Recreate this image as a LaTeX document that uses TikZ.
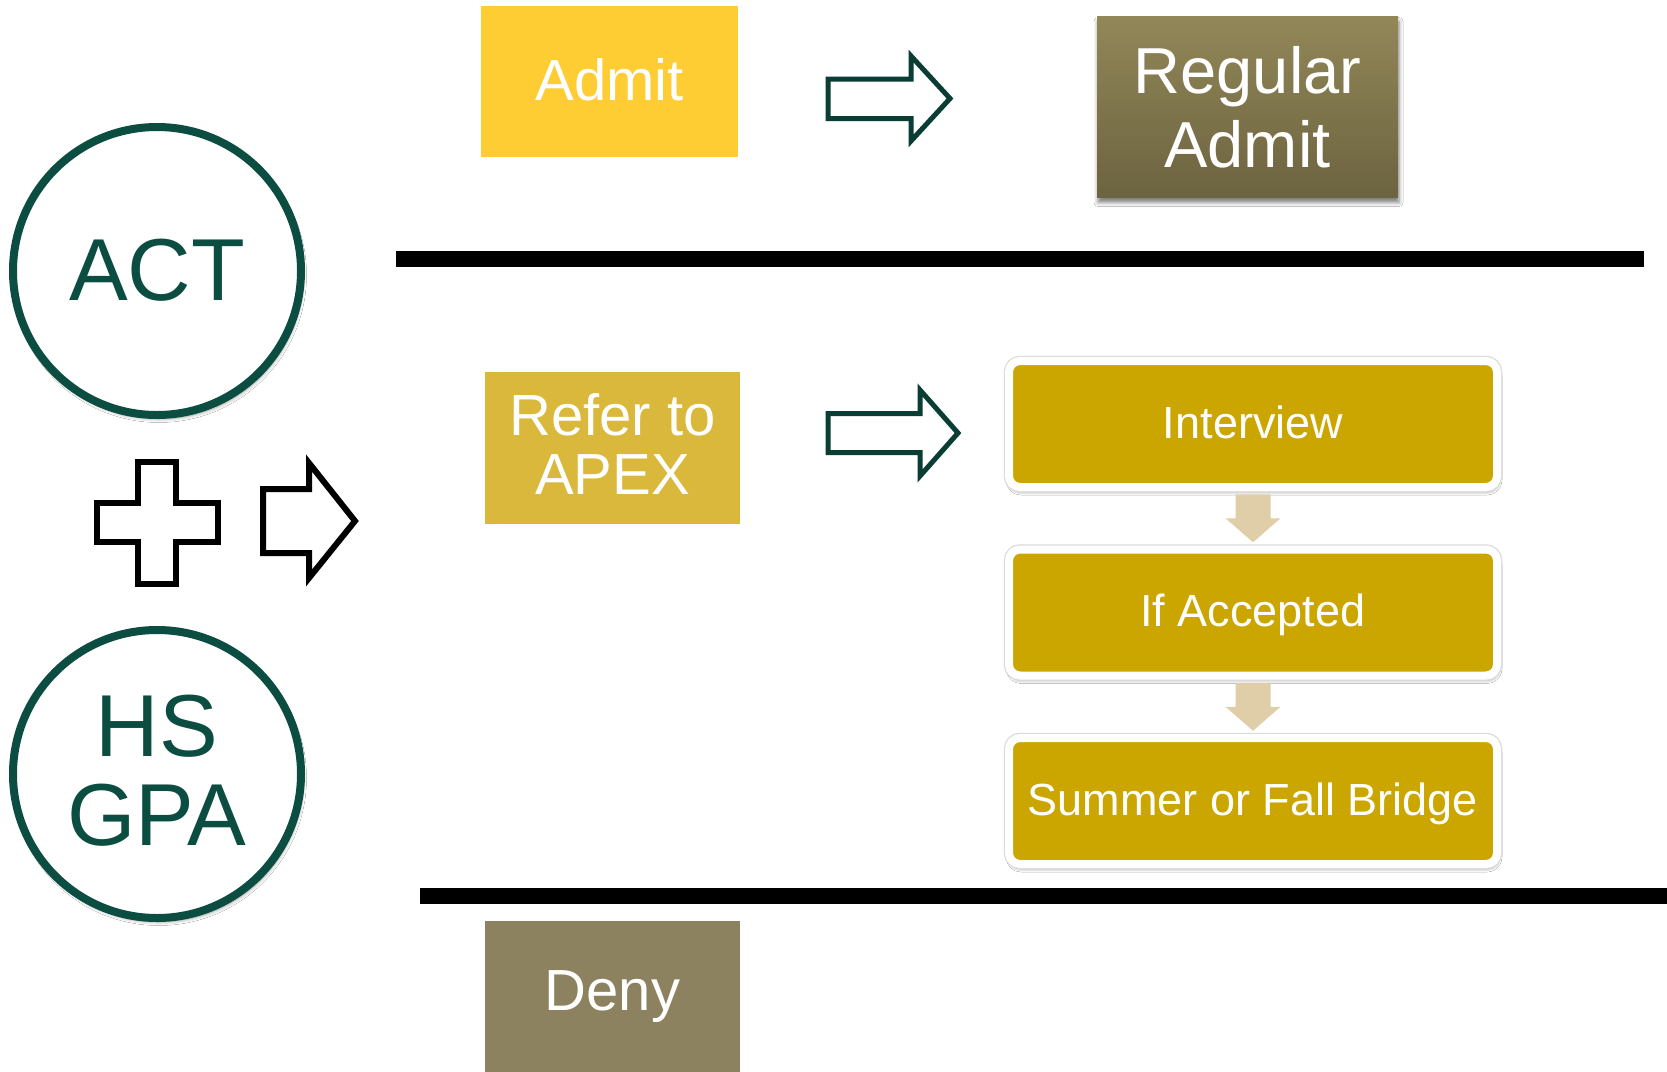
\documentclass[tikz,border=0pt]{standalone}
\usepackage{fontspec}
\setmainfont{Liberation Sans}
\usetikzlibrary{shadows.blur,calc}

\definecolor{admitYellow}{RGB}{254,204,51}
\definecolor{referGold}{RGB}{217,184,60}
\definecolor{denyOlive}{RGB}{140,130,96}
\definecolor{regTop}{RGB}{146,135,88}
\definecolor{regBot}{RGB}{108,99,64}
\definecolor{stepGold}{RGB}{204,166,0}
\definecolor{stepArrow}{RGB}{224,206,168}
\definecolor{ringGreen}{RGB}{11,77,64}
\definecolor{arrowGreen}{RGB}{10,61,51}

\begin{document}
\begin{tikzpicture}[x=1pt,y=-1pt,
  outcome/.style={rectangle, inner sep=0pt, text=white, align=center,
    minimum width=255, minimum height=151},
  bigtext/.style={font=\fontsize{58}{59}\selectfont},
  ring/.style={circle, draw=ringGreen, line width=8, fill=white, inner sep=0pt,
    minimum size=288, text=ringGreen, align=center,
    font=\fontsize{88}{89}\selectfont,
    blur shadow={shadow xshift=2pt, shadow yshift=-4pt, shadow blur radius=3.5pt, shadow opacity=40}},
  stepbox/.style={rectangle, rounded corners=11, fill=stepGold, draw=white, line width=8,
    minimum width=488, minimum height=126, inner sep=0pt, text=white,
    text height=34pt, text depth=6pt,
    font=\fontsize{45}{50}\selectfont,
    blur shadow={shadow xshift=1pt, shadow yshift=-4pt, shadow blur radius=4pt, shadow opacity=55},
    preaction={draw=black!14, line width=10.5}},
  steparrow/.style={fill=stepArrow, draw=none},
  hollowarrow/.style={draw=arrowGreen, line width=5, fill=white, line join=miter},
  blackshape/.style={draw=black, line width=6, fill=white, line join=miter},
  divider/.style={line width=16, draw=black}
]
\useasboundingbox (0,0) rectangle (1667,1071);
\fill[white] (0,0) rectangle (1667,1071);

% horizontal dividers between the outcome bands
\draw[divider] (396,259) -- (1644,259);
\draw[divider] (420,896) -- (1667,896);

% inputs
\node[ring, text depth=2pt] (act) at (157,271) {ACT};
\node[ring, text depth=8pt] (gpa) at (157,774) {HS\\GPA};

% plus sign and arrow between the inputs
\draw[blackshape] (138,462) -- (176,462) -- (176,503) -- (218,503) -- (218,542)
  -- (176,542) -- (176,584) -- (138,584) -- (138,542) -- (97,542) -- (97,503)
  -- (138,503) -- cycle;
\draw[blackshape] (263,489) -- (309,489) -- (309,463) -- (355,521) -- (309,578)
  -- (309,553) -- (263,553) -- cycle;

% outcomes
\node[outcome, bigtext, fill=admitYellow, minimum width=257, text depth=4pt] (admit) at (609.5,81.5) {Admit};
\node[outcome, bigtext, fill=referGold, minimum height=152, text depth=8pt] (refer) at (612.5,448) {Refer to\\APEX};
\node[outcome, bigtext, fill=denyOlive, minimum height=152] (deny) at (612.5,997) {Deny};

\node[outcome, top color=regTop, bottom color=regBot, minimum width=301, minimum height=181,
  font=\fontsize{65}{74}\selectfont,
  blur shadow={shadow xshift=1pt, shadow yshift=-5pt, shadow blur radius=4pt, shadow opacity=50}]
  (reg) at (1247.5,107) {Regular\\Admit};

% APEX steps
\node[stepbox] (iv)  at (1253,424)   {Interview};
\node[stepbox] (acc) at (1253,612.5) {If Accepted};
\node[stepbox] (sum) at (1253,801)   {Summer or Fall Bridge};

% block arrows between the steps
\coordinate (m1) at ($(iv.south)!0.5!(acc.north)$);
\coordinate (m2) at ($(acc.south)!0.5!(sum.north)$);
\foreach \m in {m1,m2}
  \fill[steparrow] (\m) ++(-17.5,-24) -- ++(35,0) -- ++(0,24) -- ++(10,0)
    -- ++(-27.5,24) -- ++(-27.5,-24) -- ++(10,0) -- cycle;

% hollow arrows leading to the results
\draw[hollowarrow] (828,79) -- (911,79) -- (911,56) -- (950,98.5) -- (911,141)
  -- (911,118.5) -- (828,118.5) -- cycle;
\draw[hollowarrow] (828,413.5) -- (920,413.5) -- (920,390) -- (958,433) -- (920,476)
  -- (920,452.5) -- (828,452.5) -- cycle;
\end{tikzpicture}
\end{document}
